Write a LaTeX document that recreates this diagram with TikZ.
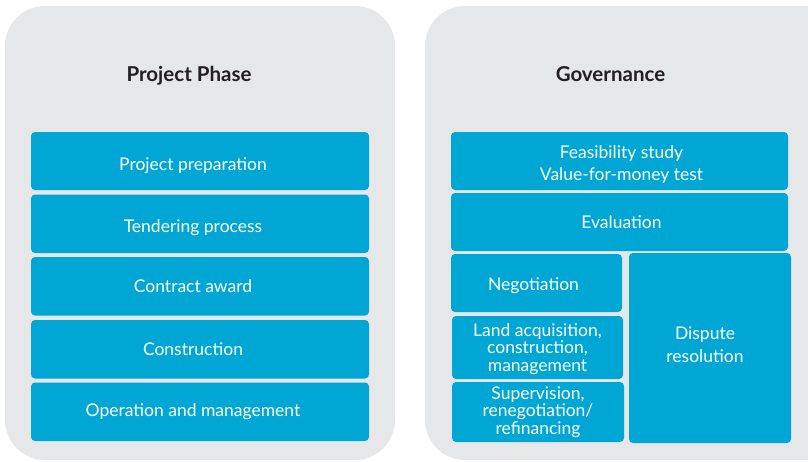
\documentclass[tikz,border=0pt]{standalone}
\usepackage{fontspec}
\setmainfont{Lato}
\definecolor{panelgray}{HTML}{E6E7E9}
\definecolor{boxblue}{HTML}{00A6D4}
\definecolor{titlegray}{HTML}{231F20}
\tikzset{
  panel/.style={fill=panelgray, draw=none, rounded corners=40pt},
  bluebox/.style={fill=boxblue, draw=none, rounded corners=4pt},
  boxtext/.style={text=white, font=\fontsize{17.5}{21}\selectfont, align=center, inner sep=0pt, anchor=base},
  paneltitle/.style={text=titlegray, font=\fontsize{20.5}{24}\selectfont\bfseries, anchor=base, inner sep=0pt}
}
\begin{document}
\begin{tikzpicture}[x=1pt,y=-1pt]
\useasboundingbox (0,0) rectangle (808,461);
\clip (0,0) rectangle (808,461);
% panels
\path[panel] (5,6) rectangle (395,460);
\path[panel] (425,6) rectangle (850,460);
\node[paneltitle] (t1) at (189,81.5) {Project Phase};
\node[paneltitle] (t2) at (610.5,81.5) {Governance};
% left boxes
\path[bluebox] (31,132) rectangle (369,190);
\path[bluebox] (31,194.5) rectangle (369,253);
\path[bluebox] (31,257) rectangle (369,315.5);
\path[bluebox] (31,320) rectangle (369,378.5);
\path[bluebox] (31,382.5) rectangle (369,441);
\node[boxtext] (p1) at (193,170) {Project preparation};
\node[boxtext] (p2) at (193,232) {Tendering process};
\node[boxtext] (p3) at (193,292.7) {Contract award};
\node[boxtext] (p4) at (193,355) {Construction};
\node[boxtext] (p5) at (193,416.7) {Operation and management};
% right boxes
\path[bluebox] (451,132) rectangle (788,190);
\path[bluebox] (451,193) rectangle (788,251);
\path[bluebox] (451,254) rectangle (622,312);
\path[bluebox] (452,316) rectangle (623,379);
\path[bluebox] (452,382) rectangle (624,442);
\path[bluebox] (629,253) rectangle (791,443);
\node[boxtext, font=\fontsize{17.5}{21.7}\selectfont] (g1) at (621.5,180) {Feasibility study\\Value-for-money test};
\node[boxtext] (g2) at (621.5,228.5) {Evaluation};
\node[boxtext] (g3) at (533.5,290.7) {Negotiation};
\node[boxtext, font=\fontsize{17.5}{17.8}\selectfont] (g4) at (537.5,371.7) {Land acquisition,\\construction,\\management};
\node[boxtext, font=\fontsize{17.5}{17.4}\selectfont] (g5) at (538,434) {Supervision,\\renegotiation/\\refinancing};
\node[boxtext, font=\fontsize{17.5}{23.4}\selectfont] (g6) at (705,362.7) {Dispute\\resolution};
\end{tikzpicture}
\end{document}
